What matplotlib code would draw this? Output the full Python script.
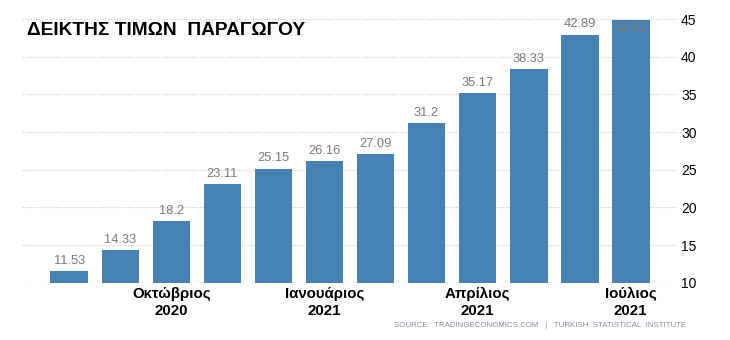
import matplotlib.pyplot as plt

# Producer price index, Turkey (Aug 2020 - Jul 2021)
values = [11.53, 14.33, 18.2, 23.11, 25.15, 26.16, 27.09, 31.2, 35.17, 38.33, 42.89, 44.92]
tick_pos = [2, 5, 8, 11]
tick_labels = ["Οκτώβριος\n2020", "Ιανουάριος\n2021", "Απρίλιος\n2021", "Ιούλιος\n2021"]
yticks = [10, 15, 20, 25, 30, 35, 40, 45]

plt.rcParams['font.family'] = ['Liberation Sans', 'DejaVu Sans']

fig = plt.figure(figsize=(7.3, 3.4), dpi=100)
ax = fig.add_axes([0.030, 0.168, 0.899, 0.776])

x = list(range(len(values)))
ax.bar(x, [v - 10 for v in values], bottom=10, width=0.74, color='#4682b4', zorder=2)

# value labels
for i, v in enumerate(values):
    if v + 1.2 > 45:
        ax.text(i, v - 0.4, f"{v:g}", ha='center', va='top', fontsize=9.3, color='#7a7a7a', zorder=3)
    else:
        ax.text(i, v + 0.6, f"{v:g}", ha='center', va='bottom', fontsize=9.3, color='#7a7a7a', zorder=3)

ax.set_xlim(-0.93, 11.93)
ax.set_ylim(10, 45)
ax.set_yticks(yticks)
ax.yaxis.tick_right()
ax.tick_params(axis='y', length=0, labelsize=10, pad=2)
ax.set_xticks(tick_pos)
ax.set_xticklabels(tick_labels, fontsize=10.8, fontweight='bold', linespacing=1.3)
ax.tick_params(axis='x', length=0, pad=3)
ax.grid(axis='y', color='#c8c8c8', linestyle=(0, (1, 1.5)), linewidth=0.8, zorder=0)
for s in ax.spines.values():
    s.set_visible(False)

fig.text(0.037, 0.91, "ΔΕΙΚΤΗΣ ΤΙΜΩΝ  ΠΑΡΑΓΩΓΟΥ", fontsize=13.8, fontweight='bold', va='center', ha='left')
fig.text(0.94, 0.043, "SOURCE:  TRADINGECONOMICS.COM   |   TURKISH  STATISTICAL  INSTITUTE",
         fontsize=5.7, color='#8a8a9a', ha='right', va='center')

fig.savefig("out.png", dpi=100)
